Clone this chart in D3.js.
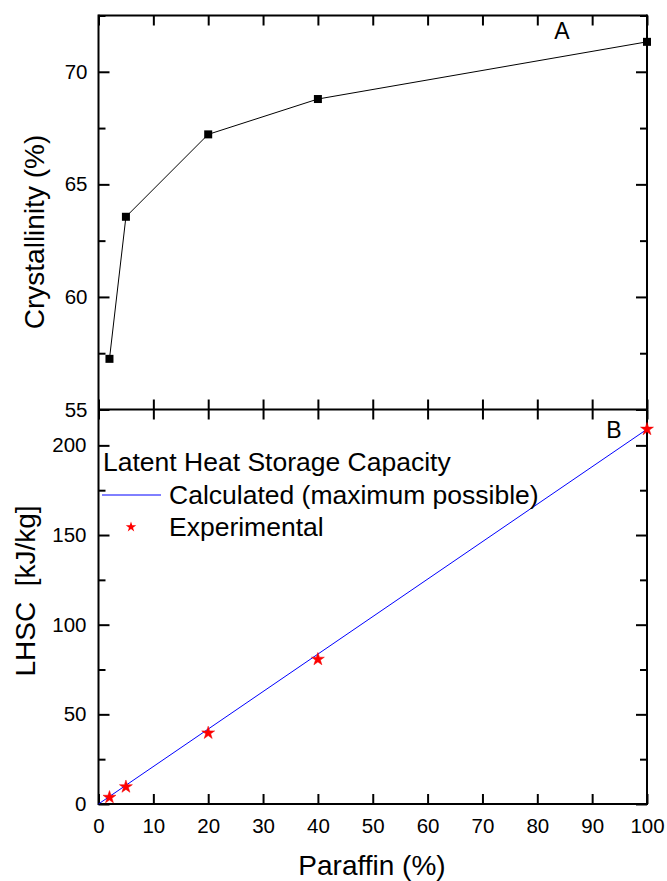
<!DOCTYPE html>
<html>
<head>
<meta charset="utf-8">
<script src="https://cdn.jsdelivr.net/npm/d3@7"></script>
<style>
  html, body { margin: 0; padding: 0; background: #fff; }
  svg { display: block; font-family: "Liberation Sans", Arial, Helvetica, sans-serif; }
</style>
</head>
<body>
<svg id="chart" width="667" height="881"></svg>
<script>
// ---- Data ----
const paraffin = [2, 5, 20, 40, 100];
const crystallinity = [57.25, 63.56, 67.22, 68.79, 71.33];
const calcX = [0, 100];
const calcY = [0, 209];
const experimental = [3.7, 9.6, 39.6, 80.7, 209];

const xTicks = [0, 10, 20, 30, 40, 50, 60, 70, 80, 90, 100];
const topMajor = [55, 60, 65, 70];
const topMinor = [57.5, 62.5, 67.5, 72.5];
const botMajor = [0, 50, 100, 150, 200];
const botMinor = [25, 75, 125, 175];

const svg = d3.select("#chart");

const xL = 98.5, xR = 647, yTop = 15.5, yMid = 409.5, yBot = 804;

const x = d3.scaleLinear().domain([0, 100]).range([xL, xR]);
const yA = d3.scaleLinear().domain([55, 72.5]).range([yMid, yTop]);
const yB = d3.scaleLinear().domain([0, 220]).range([yBot, yMid]);

const fontTick = 20.5;

function styleAxis(g, width) {
  g.selectAll(".domain").remove();
  g.selectAll(".tick line").attr("stroke", "#000").attr("stroke-width", width || 2);
  g.selectAll("text").attr("font-size", fontTick).attr("fill", "#000")
    .attr("font-family", "Liberation Sans, Arial, sans-serif");
}

// ---- Top panel (A) ----
svg.append("g").attr("transform", `translate(${xL},0)`)
  .call(d3.axisLeft(yA).tickValues(topMajor).tickSize(-11).tickPadding(11).tickFormat(d3.format("d")))
  .call(g => styleAxis(g));
svg.append("g").attr("transform", `translate(${xL},0)`)
  .call(d3.axisLeft(yA).tickValues(topMinor).tickSize(-7).tickFormat(""))
  .call(g => styleAxis(g));
svg.append("g").attr("transform", `translate(${xR},0)`)
  .call(d3.axisRight(yA).tickValues(topMajor).tickSize(-11).tickFormat(""))
  .call(g => styleAxis(g));
svg.append("g").attr("transform", `translate(${xR},0)`)
  .call(d3.axisRight(yA).tickValues(topMinor).tickSize(-7).tickFormat(""))
  .call(g => styleAxis(g));
svg.append("g").attr("transform", `translate(0,${yTop})`)
  .call(d3.axisTop(x).tickValues(xTicks).tickSize(-10).tickFormat(""))
  .call(g => styleAxis(g));
svg.append("g").attr("transform", `translate(0,${yMid})`)
  .call(d3.axisBottom(x).tickValues(xTicks).tickSize(-10).tickFormat(""))
  .call(g => styleAxis(g));

// ---- Bottom panel (B) ----
svg.append("g").attr("transform", `translate(${xL},0)`)
  .call(d3.axisLeft(yB).tickValues(botMajor).tickSize(-11).tickPadding(12).tickFormat(d3.format("d")))
  .call(g => styleAxis(g));
svg.append("g").attr("transform", `translate(${xL},0)`)
  .call(d3.axisLeft(yB).tickValues(botMinor).tickSize(-7).tickFormat(""))
  .call(g => styleAxis(g));
svg.append("g").attr("transform", `translate(${xR},0)`)
  .call(d3.axisRight(yB).tickValues(botMajor).tickSize(-11).tickFormat(""))
  .call(g => styleAxis(g));
svg.append("g").attr("transform", `translate(${xR},0)`)
  .call(d3.axisRight(yB).tickValues(botMinor).tickSize(-7).tickFormat(""))
  .call(g => styleAxis(g));
svg.append("g").attr("transform", `translate(0,${yMid})`)
  .call(d3.axisTop(x).tickValues(xTicks).tickSize(-10).tickFormat(""))
  .call(g => styleAxis(g));
svg.append("g").attr("transform", `translate(0,${yBot})`)
  .call(d3.axisBottom(x).tickValues(xTicks).tickSize(-10).tickPadding(14).tickFormat(d3.format("d")))
  .call(g => styleAxis(g));

// ---- Frame ----
const frame = svg.append("g").attr("stroke", "#000").attr("stroke-width", 2).attr("fill", "none");
frame.append("line").attr("x1", xL).attr("x2", xL).attr("y1", yTop - 1).attr("y2", yBot + 1);
frame.append("line").attr("x1", xR).attr("x2", xR).attr("y1", yTop - 1).attr("y2", yBot + 1);
frame.append("line").attr("x1", xL).attr("x2", xR).attr("y1", yTop).attr("y2", yTop);
frame.append("line").attr("x1", xL).attr("x2", xR).attr("y1", yMid).attr("y2", yMid);
frame.append("line").attr("x1", xL).attr("x2", xR).attr("y1", yBot).attr("y2", yBot);

// ---- Top data ----
const topData = paraffin.map((p, i) => [p, crystallinity[i]]);
svg.append("path").datum(topData)
  .attr("fill", "none").attr("stroke", "#000").attr("stroke-width", 1)
  .attr("d", d3.line().x(d => x(d[0])).y(d => yA(d[1])));
svg.append("g").selectAll("rect").data(topData).join("rect")
  .attr("x", d => x(d[0]) - 4).attr("y", d => yA(d[1]) - 4)
  .attr("width", 8).attr("height", 8).attr("fill", "#000");

// ---- Bottom data ----
const calcData = calcX.map((v, i) => [v, calcY[i]]);
svg.append("path").datum(calcData)
  .attr("fill", "none").attr("stroke", "#0000ff").attr("stroke-width", 1)
  .attr("d", d3.line().x(d => x(d[0])).y(d => yB(d[1])));
const star = d3.symbol().type(d3.symbolStar).size(52);
svg.append("g").selectAll("path").data(paraffin.map((p, i) => [p, experimental[i]])).join("path")
  .attr("transform", d => `translate(${x(d[0])},${yB(d[1])})`)
  .attr("d", star).attr("fill", "#ff0000").attr("stroke", "#ee0000").attr("stroke-width", 0.5);

// ---- Panel labels ----
svg.append("text").attr("x", 562).attr("y", 39).attr("text-anchor", "middle")
  .attr("font-size", 23).text("A");
svg.append("text").attr("x", 614).attr("y", 438).attr("text-anchor", "middle")
  .attr("font-size", 23).text("B");

// ---- Legend ----
const lg = svg.append("g");
lg.append("text").attr("x", 103).attr("y", 471).attr("font-size", 26.5).text("Latent Heat Storage Capacity");
lg.append("line").attr("x1", 102).attr("x2", 161).attr("y1", 495).attr("y2", 495)
  .attr("stroke", "#0000ff").attr("stroke-width", 1);
lg.append("text").attr("x", 169).attr("y", 503.5).attr("font-size", 26.5).text("Calculated (maximum possible)");
lg.append("path").attr("transform", "translate(131,527)")
  .attr("d", d3.symbol().type(d3.symbolStar).size(34)).attr("fill", "#ff0000");
lg.append("text").attr("x", 169).attr("y", 536).attr("font-size", 26.5).text("Experimental");

// ---- Axis titles ----
svg.append("text").attr("transform", "translate(44,232) rotate(-90)")
  .attr("text-anchor", "middle").attr("font-size", 28).text("Crystallinity (%)");
svg.append("text").attr("transform", "translate(35,591) rotate(-90)")
  .attr("text-anchor", "middle").attr("font-size", 28).style("white-space", "pre").text("LHSC  [kJ/kg]");
svg.append("text").attr("x", 372).attr("y", 875)
  .attr("text-anchor", "middle").attr("font-size", 28).text("Paraffin (%)");
</script>
</body>
</html>
